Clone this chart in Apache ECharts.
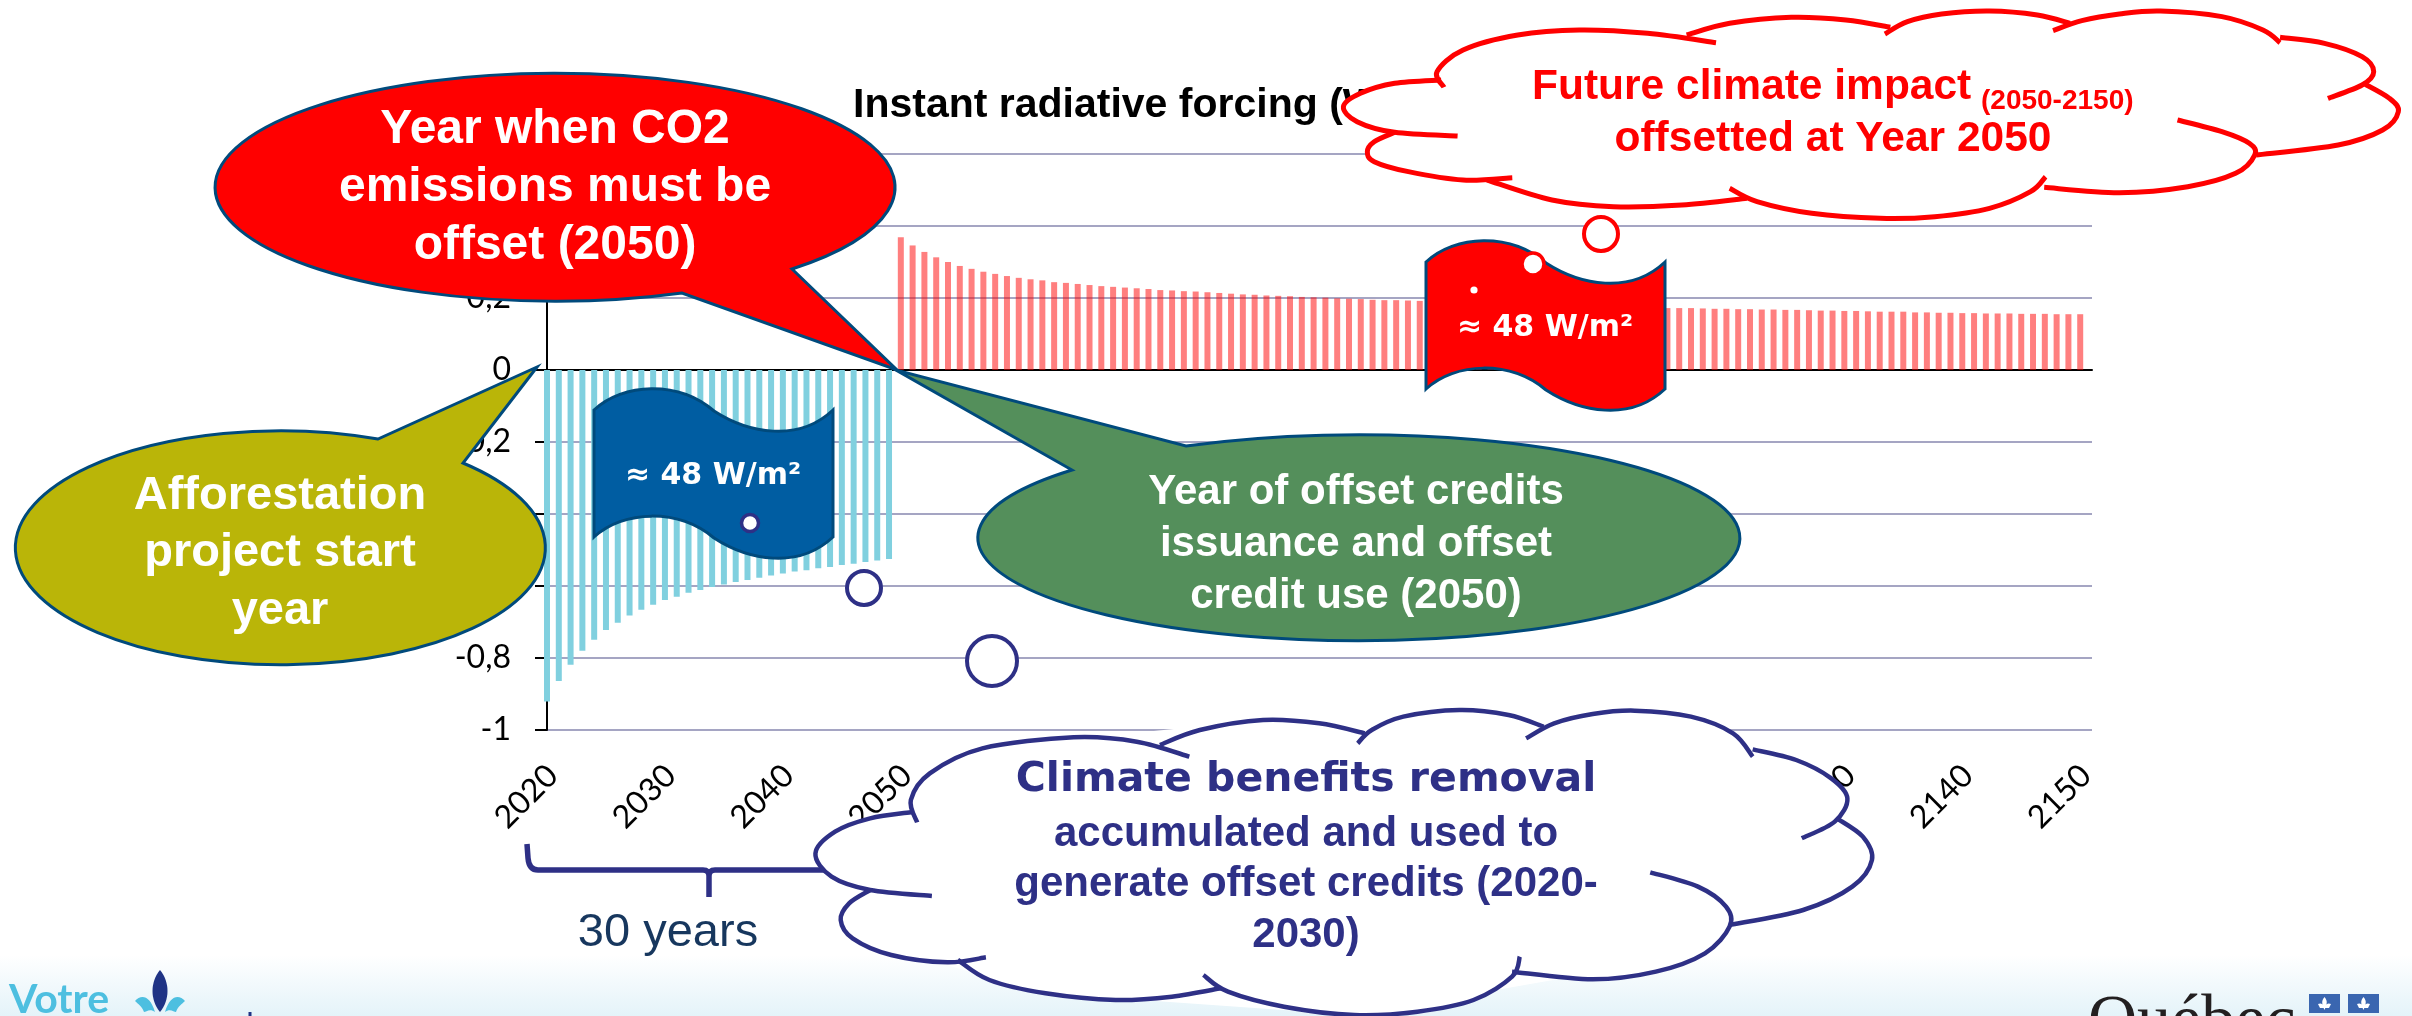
<!DOCTYPE html>
<html>
<head>
<meta charset="utf-8">
<style>html,body{margin:0;padding:0;background:#fff}#c{width:2412px;height:1016px}</style>
<script src="https://cdn.jsdelivr.net/npm/echarts@6/dist/echarts.min.js"></script>
</head>
<body>
<div id="c"></div>
<script>
const startYear = 2020;
const endYear = 2150;
const yTickStep = 0.2;
const chartTitle = 'Instant radiative forcing (W/m²)';

// Removal pulse, 2020-2049
const removalValues = [
  -0.921,-0.864,-0.819,-0.780,-0.749,-0.722,-0.702,-0.682,-0.666,-0.652,
  -0.639,-0.630,-0.619,-0.611,-0.603,-0.596,-0.589,-0.583,-0.577,-0.571,
  -0.565,-0.560,-0.556,-0.551,-0.547,-0.542,-0.538,-0.533,-0.529,-0.525
];
// Emission pulse, 2050-2150
const emissionValues = [
  0.369,0.346,0.328,0.313,0.300,0.289,0.281,0.273,0.267,0.261,
  0.256,0.252,0.249,0.244,0.242,0.239,0.236,0.233,0.231,0.229,
  0.227,0.225,0.222,0.221,0.219,0.218,0.216,0.214,0.212,0.210,
  0.209,0.207,0.206,0.205,0.203,0.202,0.201,0.199,0.198,0.197,
  0.195,0.194,0.194,0.193,0.192,
  0.191,0.190,0.189,0.188,0.187,0.186,0.185,0.184,0.183,0.182,
  0.181,0.180,0.179,0.178,0.177,0.176,0.175,0.175,0.174,0.173,
  0.172,0.172,0.172,0.171,0.170,0.170,0.169,0.169,0.168,0.168,
  0.167,0.167,0.166,0.165,0.165,0.164,0.164,0.163,0.162,0.162,
  0.162,0.160,0.160,0.159,0.159,0.158,0.158,0.157,0.157,0.157,
  0.156,0.156,0.156,0.155,0.155,0.155
];

const removalSeries = removalValues.map((v, i) => [startYear + i, v]);
const emissionSeries = emissionValues.map((v, i) => [startYear + removalValues.length + i, v]);

const INK = '#2E3086', EDGE = '#004A7C', RED = '#FF0000';
const SANS = '"Liberation Sans", Arial, sans-serif';
const DEJA = '"DejaVu Sans", sans-serif';
const g = [];
const Z = 100;
let shapeCount = 0;

function text(str, x, base, size, fill, opt) {
  opt = opt || {};
  g.push({ type: 'text', z: Z, silent: true, style: {
    text: str, x: x, y: base - size * 0.30,
    fill: fill, fontFamily: opt.family || SANS, fontSize: size,
    fontWeight: opt.weight || 'bold',
    textAlign: opt.align || 'center', textVerticalAlign: 'middle',
    align: opt.align || 'center', verticalAlign: 'middle'
  }});
}
function path(d, fill, stroke, w) {
  const name = 'annot' + (shapeCount++);
  echarts.graphic.registerShape(name, echarts.graphic.extendPath(d, {}));
  g.push({ type: name, z: Z, silent: true,
    style: { fill: fill || 'none', stroke: stroke || 'none', lineWidth: w || 0, lineJoin: 'miter' } });
}
function ring(x, y, r, stroke, w) {
  g.push({ type: 'circle', z: Z, silent: true, shape: { cx: x, cy: y, r: r },
    style: { fill: '#fff', stroke: stroke, lineWidth: w } });
}
function bubble(rx, ry, p1, p2, tip, fill) {
  path('M' + p1 + ' A' + rx + ' ' + ry + ' 0 1 1 ' + p2 + ' L' + tip + ' Z', fill, EDGE, 3);
}
function flag(dx, dy, fill) {
  const p = (x, y) => (x + dx) + ' ' + (y + dy);
  path('M' + p(1426,262) + ' C' + p(1455,235) + ' ' + p(1510,232) + ' ' + p(1546,263) +
       ' C' + p(1580,285) + ' ' + p(1630,295) + ' ' + p(1665,262) +
       ' L' + p(1665,389) + ' C' + p(1630,422) + ' ' + p(1580,412) + ' ' + p(1546,390) +
       ' C' + p(1510,360) + ' ' + p(1455,362) + ' ' + p(1426,389) + ' Z', fill, EDGE, 3);
}
function spline(pts) {
  let d = 'M' + pts[0][0] + ' ' + pts[0][1];
  for (let i = 0; i < pts.length - 1; i++) {
    const a = pts[i - 1] || pts[i], b = pts[i], c = pts[i + 1], e = pts[i + 2] || c;
    d += ' C' + (b[0] + (c[0] - a[0]) / 6) + ' ' + (b[1] + (c[1] - a[1]) / 6) + ' ' +
         (c[0] - (e[0] - b[0]) / 6) + ' ' + (c[1] - (e[1] - b[1]) / 6) + ' ' + c[0] + ' ' + c[1];
  }
  return d;
}
function cloud(lobes, ox, oy, kx, ky, stroke, w) {
  const L = lobes.map(l => l.map(p => [ox + p[0] * kx, oy + p[1] * ky]));
  L.forEach(l => path(spline(l) + ' Z', '#fff'));
  path('M' + L.map(l => l[Math.floor(l.length / 2)].join(' ')).join(' L') + ' Z', '#fff');
  path('M' + L.map(l => l[0].join(' ')).join(' L') + ' Z', '#fff');
  L.forEach(l => path(spline(l), null, stroke, w));
}

// Brace and label
path('M527 844 L528 858 Q529 870 538 870 L703 870 Q709 870 709 876 L709 897 M709 876 Q709 870 715 870 L880 870',
     null, INK, 5.5);
text('30 years', 668, 947, 47, '#17375E', { weight: 'normal' });

// Flags
flag(-832, 148, '#005DA2');
text('≈ 48 W/m²', 713, 485, 30, '#fff', { family: DEJA });
ring(750, 523, 8.5, INK, 3.5);
ring(864, 588, 17, INK, 4);
ring(992, 661, 25, INK, 4);

flag(0, 0, RED);
text('≈ 48 W/m²', 1545, 337, 30, '#fff', { family: DEJA });
g.push({ type: 'circle', z: Z, silent: true, shape: { cx: 1474, cy: 290, r: 3.6 }, style: { fill: '#fff' } });
ring(1533, 264, 11, RED, 3.5);
ring(1601, 234, 17, RED, 4);

// Callouts
bubble(265, 117, '463 463', '378 439', '537 367', '#BAB508');
text('Afforestation', 280, 510, 47, '#fff');
text('project start', 280, 567, 47, '#fff');
text('year', 280, 625, 47, '#fff');

bubble(340, 114, '682 293', '792 269', '897 370', RED);
text('Year when CO2', 555, 144, 48, '#fff');
text('emissions must be', 555, 202, 48, '#fff');
text('offset (2050)', 555, 260, 48, '#fff');

bubble(381, 103, '1186 446', '1072 470', '896 370', '#548F5B');
text('Year of offset credits', 1356, 505, 42, '#fff');
text('issuance and offset', 1356, 557, 42, '#fff');
text('credit use (2050)', 1356, 609, 42, '#fff');

// Red cloud
cloud([
  [[172,408],[80,397],[25,365],[5,320],[30,280],[80,250],[148,240]],
  [[152,262],[142,215],[180,150],[260,105],[350,90],[450,100],[550,128]],
  [[507,105],[570,70],[660,52],[740,60],[805,82]],
  [[797,102],[830,65],[880,42],[950,33],[1020,45],[1068,70]],
  [[1043,92],[1085,62],[1140,42],[1200,33],[1290,50],[1350,90],[1375,128]],
  [[1375,112],[1440,130],[1495,170],[1512,215],[1495,255],[1445,295]],
  [[1497,250],[1535,295],[1548,335],[1525,390],[1460,435],[1340,465]],
  [[1225,360],[1290,395],[1330,430],[1338,465],[1310,520],[1240,560],[1140,578],[1030,562]],
  [[1032,530],[1010,575],[950,625],[870,650],[790,655],[690,640],[610,605],[570,565]],
  [[595,595],[500,615],[400,620],[310,600],[215,540]],
  [[252,533],[180,540],[100,515],[50,485],[40,455],[50,425],[80,397]]
], 1340, 0, 1072 / 1568, 1 / 3, RED, 5);
text('Future climate impact', 1532, 100, 42.5, RED, { align: 'left' });
text('(2050-2150)', 1981, 110, 28, RED, { align: 'left' });
text('offsetted at Year 2050', 1833, 152, 42.5, RED);

// Blue cloud
cloud([
  [[188,618],[100,600],[45,560],[22,490],[50,425],[100,385],[160,366]],
  [[167,397],[158,330],[185,250],[260,175],[390,142],[480,155],[555,200]],
  [[513,165],[570,120],[660,90],[740,100],[805,130]],
  [[795,160],[815,120],[860,80],[940,60],[1010,75],[1060,110]],
  [[1035,145],[1075,100],[1130,72],[1190,62],[1270,80],[1330,130],[1358,200]],
  [[1358,178],[1420,210],[1470,265],[1493,325],[1475,395],[1428,445]],
  [[1478,385],[1515,440],[1528,510],[1500,590],[1430,660],[1325,705]],
  [[1212,547],[1280,590],[1320,650],[1325,710],[1290,790],[1220,845],[1130,868],[1015,845]],
  [[1026,800],[1015,860],[960,930],[880,965],[790,975],[690,950],[610,905],[575,855]],
  [[600,895],[530,920],[450,930],[350,910],[270,870],[225,810]],
  [[265,802],[210,817],[130,795],[75,745],[58,690],[70,640],[100,600]]
], 800, 690, 1100 / 1568, 1 / 3, INK, 4.5);
text('Climate benefits removal', 1306, 793, 41, INK, { family: DEJA });
text('accumulated and used to', 1306, 847, 42, INK);
text('generate offset credits (2020-', 1306, 897, 42, INK);
text('2030)', 1306, 948, 42, INK);

// Footer logos
text('Votre', 9, 1012, 41, '#4DBFE0', { family: 'Lato', align: 'left' });
path('M160 970 C170 982 170 1000 160 1012 C150 1000 150 982 160 970 Z', '#1F3385');
path('M135 1001 C141 994 150 995 155 1012 C150 1008 146 1012 144 1012 C142 1006 138 1004 135 1001 Z', '#4DBFE0');
path('M185 1001 C179 994 170 995 165 1012 C170 1008 174 1012 176 1012 C178 1006 182 1004 185 1001 Z', '#4DBFE0');
g.push({ type: 'rect', z: Z, silent: true, shape: { x: 248.5, y: 1012, width: 3, height: 4 }, style: { fill: '#1F3385' } });
text('Québec', 2088, 1044, 68, '#231F20', { family: '"Liberation Serif", serif', weight: 'normal', align: 'left' });
[2309, 2348].forEach(x => {
  g.push({ type: 'rect', z: Z, silent: true, shape: { x: x, y: 994, width: 31, height: 19 }, style: { fill: '#3A66B0' } });
  path('M' + (x + 15.5) + ' 997 C' + (x + 19) + ' 1001 ' + (x + 18) + ' 1004 ' + (x + 15.5) + ' 1010 C' + (x + 13) + ' 1004 ' + (x + 12) + ' 1001 ' + (x + 15.5) + ' 997 Z M' +
       (x + 9) + ' 1004 Q' + (x + 13) + ' 1002 ' + (x + 15.5) + ' 1007 Q' + (x + 18) + ' 1002 ' + (x + 22) + ' 1004 L' + (x + 20) + ' 1008 L' + (x + 11) + ' 1008 Z', '#fff');
});

const chart = echarts.init(document.getElementById('c'), null, { renderer: 'canvas' });
chart.setOption({
  animation: false,
  backgroundColor: new echarts.graphic.LinearGradient(0, 0, 0, 1, [
    { offset: 0, color: '#ffffff' },
    { offset: 0.94, color: '#ffffff' },
    { offset: 1, color: '#E4F3F9' }
  ]),
  title: {
    text: chartTitle, left: 848, top: 80,
    textStyle: { fontFamily: SANS, fontSize: 41, fontWeight: 'bold', color: '#000' }
  },
  grid: { left: 547, right: 320, top: 154, bottom: 286, containLabel: false },
  xAxis: [{
    type: 'value', min: startYear, max: endYear + 1, interval: 10,
    axisLine: { show: false, onZero: false }, axisTick: { show: false }, splitLine: { show: false },
    axisLabel: {
      rotate: 45, margin: 46, padding: [0, -8, 0, 0], showMaxLabel: false, formatter: v => String(v),
      fontFamily: 'Lato', fontSize: 32, color: '#000'
    }
  }, {
    type: 'value', min: startYear, max: endYear + 1, position: 'bottom',
    axisLine: { show: true, onZero: true, lineStyle: { color: '#000', width: 2 } },
    axisTick: { show: false }, splitLine: { show: false }, axisLabel: { show: false }
  }],
  yAxis: {
    type: 'value', min: -1, max: 0.6, interval: yTickStep,
    axisLine: { show: true, lineStyle: { color: '#000', width: 2 } },
    axisTick: { show: true, length: 12, lineStyle: { color: '#000', width: 2 } },
    axisLabel: {
      margin: 36, fontFamily: 'Lato', fontSize: 32, color: '#000',
      formatter: v => String(Math.round(v * 10) / 10).replace('.', ',')
    },
    splitLine: { show: true, lineStyle: { color: '#A5A5C3', width: 2 } }
  },
  series: [{
    name: 'Removal', type: 'bar', data: removalSeries, barWidth: 6, barGap: '-100%',
    itemStyle: { color: '#80D0DF' }
  }, {
    name: 'Emission', type: 'bar', data: emissionSeries, barWidth: 6,
    itemStyle: { color: 'rgba(255,0,0,0.5)' }
  }],
  graphic: { elements: g }
});
</script>
</body>
</html>
